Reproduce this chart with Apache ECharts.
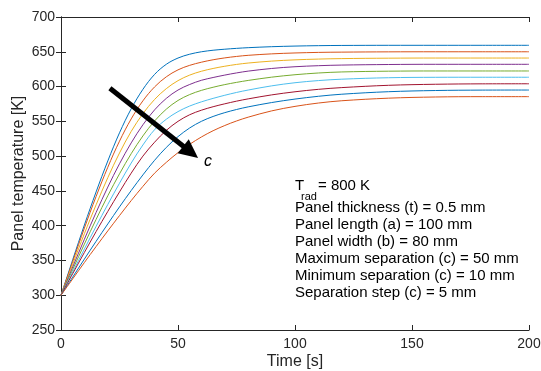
<!DOCTYPE html>
<html><head><meta charset="utf-8">
<script src="https://cdn.jsdelivr.net/npm/echarts@6/dist/echarts.min.js"></script>
<style>html,body{margin:0;padding:0;background:#fff}#c{width:541px;height:371px}</style>
</head><body><div id="c"></div>
<script>
const times = [0,5,10,15,20,25,30,35,40,45,50,55,60,65,70,75,80,90,100,110,120,140,160,180,200];
const c10 = [300,351,401,448.5,493,533.5,568,596,617.5,632,641,646.5,650,652.2,653.7,654.9,655.9,657.3,658.2,658.8,659.1,659.3,659.3,659.3,659.3];
const c15 = [300,348.5,396.5,442,484,521.5,553.5,579.5,599.5,614,624,630.5,635,638.5,641.2,643.3,644.9,647,648.3,649.1,649.5,649.9,650,650,650];
const c20 = [300,344.5,388.5,430,469,504.5,535.5,561,581.5,597,608.5,616.5,622,626,629.2,631.8,633.8,636.6,638.4,639.5,640.2,640.8,641,641,641];
const c25 = [300,340.5,380.5,419,455.5,489,519,545,566.5,583,595,603,609,613,616.5,619.6,622.2,626,628.5,630,630.9,631.7,632,632,632];
const c30 = [300,337,373.5,409,443,474.5,503.5,529,550.5,567.5,580,588.5,594.5,599,602.8,606,608.8,613.5,617,619.5,621,622.1,622.4,622.4,622.4];
const c35 = [300,333.5,366.5,399,430.5,461,490,516,538,553,564,572,578,583,587.5,591.5,595,601,605.5,608.6,610.6,612.7,613.3,613.4,613.4];
const c40 = [300,331,361.5,391.5,420.5,448.5,475.5,500,520,537,550,559.5,566,571,575.2,579,582.3,588,592.5,596,598.5,601.8,603.3,603.9,604];
const c45 = [300,326,352,377.5,402.5,427,450.5,473,494,512.5,528,540.5,550,557,562.5,567,570.8,577,582,586,589,592.6,594.3,594.9,595];
const c50 = [300,323.5,347,370,392.5,414.5,436,456.5,475.5,491,505,517,527.5,536.5,544,550.5,556,565,571.5,576.3,579.6,583.3,585,585.5,585.5];
const curves = [c10,c15,c20,c25,c30,c35,c40,c45,c50];
const colors = ['#0072BD','#D95319','#EDB120','#7E2F8E','#77AC30','#4DBEEE','#A2142F','#0072BD','#D95319'];
const xTicks = [0,50,100,150,200];
const yTicks = [250,300,350,400,450,500,550,600,650,700];
const arrowFrom = [20.9, 597.5];
const arrowTo = [55.4, 505.8];
const cLabelAt = [62.8, 492];
const infoLines = ['Panel thickness (t) = 0.5 mm','Panel length (a) = 100 mm','Panel width (b) = 80 mm','Maximum separation (c) = 50 mm','Minimum separation (c) = 10 mm','Separation step (c) = 5 mm'];

const FONT = '"Liberation Sans", Arial, Helvetica, sans-serif';
const axisCol = '#262626';
const chart = echarts.init(document.getElementById('c'), null, {renderer:'canvas'});
const axisCommon = {
  type:'value', axisLine:{show:true,lineStyle:{color:axisCol,width:1}},
  axisTick:{show:true,inside:true,length:5,lineStyle:{color:axisCol}},
  splitLine:{show:false}
};
const series = curves.map((vals,i)=>({
  type:'line', data: times.map((t,j)=>[t,vals[j]]), smooth:0.35, showSymbol:false,
  lineStyle:{color:colors[i],width:1}, itemStyle:{color:colors[i]}, z:2, animation:false
}));
series.push({
  type:'line', data:[], silent:true, animation:false,
  markLine:{silent:true, symbol:['none','triangle'], symbolSize:[18,19],
    lineStyle:{color:'#000',width:5,type:'solid'}, label:{show:false},
    data:[[{coord:arrowFrom},{coord:arrowTo}]]},
  markPoint:{silent:true, symbol:'circle', symbolSize:0,
    label:{show:true, formatter:'c', fontStyle:'italic', fontSize:16, color:'#000', fontFamily:FONT},
    data:[{coord:cLabelAt}]}
});
const graphic = [
  {type:'text', left:295, top:178, style:{text:'T', font:'15px '+FONT, fill:'#000'}},
  {type:'text', left:301, top:191, style:{text:'rad', font:'11px '+FONT, fill:'#000'}},
  {type:'text', left:318, top:178, style:{text:'= 800 K', font:'15px '+FONT, fill:'#000'}}
];
infoLines.forEach((s,i)=>graphic.push({type:'text', left:295, top:200+i*17, style:{text:s, font:'15px '+FONT, fill:'#000'}}));
chart.setOption({
  animation:false, backgroundColor:'#fff',
  grid:{left:61,right:12,top:17,bottom:41,containLabel:false,outerBoundsMode:'none'},
  xAxis:[
    Object.assign({}, axisCommon, {min:0,max:200,interval:50,position:'bottom',
      name:'Time [s]', nameLocation:'middle', nameGap:24, nameMoveOverlap:false,
      nameTextStyle:{fontSize:16,color:axisCol,fontFamily:FONT},
      axisLabel:{fontSize:14,color:axisCol,fontFamily:FONT,margin:7,
        formatter:v=>xTicks.includes(v)?String(v):''}}),
    Object.assign({}, axisCommon, {min:0,max:200,interval:50,position:'top',axisLabel:{show:false}})
  ],
  yAxis:[
    Object.assign({}, axisCommon, {min:250,max:700,interval:50,position:'left',
      name:'Panel temperature [K]', nameLocation:'middle', nameGap:34, nameMoveOverlap:false,
      nameTextStyle:{fontSize:16,color:axisCol,fontFamily:FONT},
      axisLabel:{fontSize:14,color:axisCol,fontFamily:FONT,margin:6,
        formatter:v=>yTicks.includes(v)?String(v):''}}),
    Object.assign({}, axisCommon, {min:250,max:700,interval:50,position:'right',axisLabel:{show:false}})
  ],
  series, graphic
});
</script></body></html>
